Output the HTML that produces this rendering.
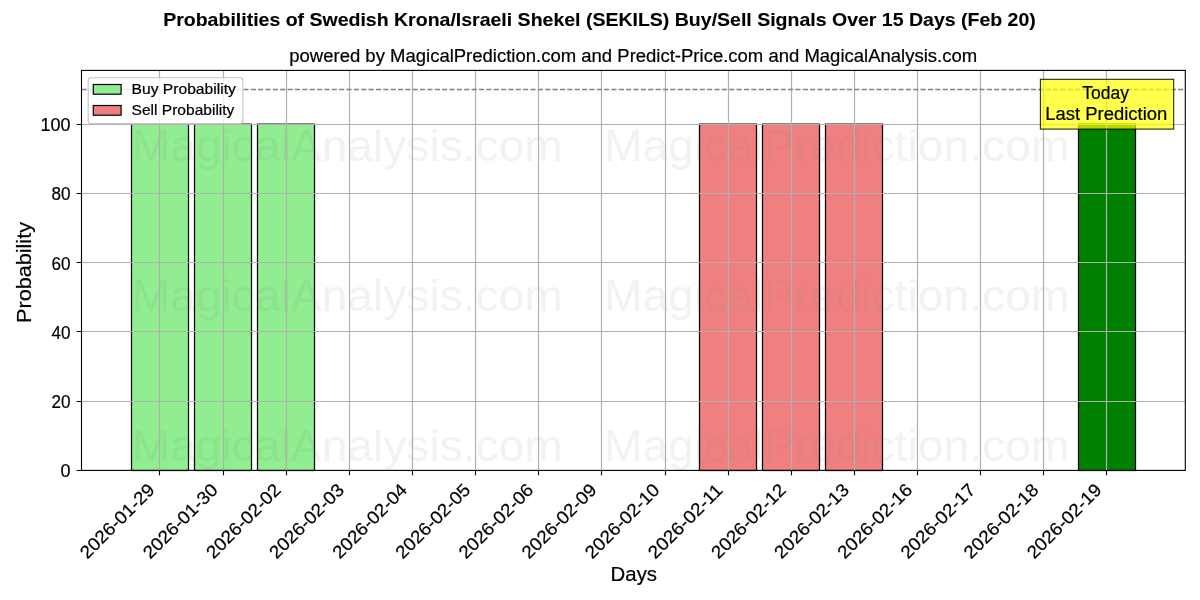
<!DOCTYPE html><html><head><meta charset="utf-8"><style>html,body{margin:0;padding:0;background:#fff;}svg{display:block;will-change:transform;}text{font-family:"Liberation Sans", sans-serif;stroke:#000;stroke-width:0.2px;}</style></head><body>
<svg width="1200" height="600" viewBox="0 0 1200 600">
<rect x="0" y="0" width="1200" height="600" fill="#fff"/>
<rect x="131.50" y="124.15" width="57.00" height="346.35" fill="#90ee90" stroke="#000" stroke-width="1.25"/>
<rect x="194.50" y="124.15" width="57.00" height="346.35" fill="#90ee90" stroke="#000" stroke-width="1.25"/>
<rect x="257.50" y="124.15" width="57.00" height="346.35" fill="#90ee90" stroke="#000" stroke-width="1.25"/>
<rect x="699.50" y="124.15" width="57.00" height="346.35" fill="#f08080" stroke="#000" stroke-width="1.25"/>
<rect x="762.50" y="124.15" width="57.00" height="346.35" fill="#f08080" stroke="#000" stroke-width="1.25"/>
<rect x="825.50" y="124.15" width="57.00" height="346.35" fill="#f08080" stroke="#000" stroke-width="1.25"/>
<rect x="1078.50" y="124.15" width="57.00" height="346.35" fill="#008000" stroke="#000" stroke-width="1.25"/>
<text x="131.8" y="161.3" font-size="43.6" fill="#808080" fill-opacity="0.1" style="stroke:none" textLength="431" lengthAdjust="spacingAndGlyphs">MagicalAnalysis.com</text>
<text x="603.9" y="161.3" font-size="43.6" fill="#808080" fill-opacity="0.1" style="stroke:none" textLength="465.7" lengthAdjust="spacingAndGlyphs">MagicalPrediction.com</text>
<text x="131.8" y="311.3" font-size="43.6" fill="#808080" fill-opacity="0.1" style="stroke:none" textLength="431" lengthAdjust="spacingAndGlyphs">MagicalAnalysis.com</text>
<text x="603.9" y="311.3" font-size="43.6" fill="#808080" fill-opacity="0.1" style="stroke:none" textLength="465.7" lengthAdjust="spacingAndGlyphs">MagicalPrediction.com</text>
<text x="131.8" y="461.3" font-size="43.6" fill="#808080" fill-opacity="0.1" style="stroke:none" textLength="431" lengthAdjust="spacingAndGlyphs">MagicalAnalysis.com</text>
<text x="603.9" y="461.3" font-size="43.6" fill="#808080" fill-opacity="0.1" style="stroke:none" textLength="465.7" lengthAdjust="spacingAndGlyphs">MagicalPrediction.com</text>
<path d="M159.50 70.4 V470.4 M223.50 70.4 V470.4 M286.50 70.4 V470.4 M349.50 70.4 V470.4 M412.50 70.4 V470.4 M475.50 70.4 V470.4 M538.50 70.4 V470.4 M601.50 70.4 V470.4 M665.50 70.4 V470.4 M728.50 70.4 V470.4 M791.50 70.4 V470.4 M854.50 70.4 V470.4 M917.50 70.4 V470.4 M980.50 70.4 V470.4 M1043.50 70.4 V470.4 M1106.50 70.4 V470.4" stroke="#b0b0b0" stroke-width="1.2" fill="none"/>
<path d="M81.5 470.50 H1185.3 M81.5 401.50 H1185.3 M81.5 331.50 H1185.3 M81.5 262.50 H1185.3 M81.5 193.50 H1185.3 M81.5 124.50 H1185.3" stroke="#b0b0b0" stroke-width="1.2" fill="none"/>
<path d="M81.5 89.52 H1185.3" stroke="#808080" stroke-width="1.39" stroke-dasharray="5.14 2.22" fill="none"/>
<rect x="1040.4" y="79.3" width="133.3" height="49.8" fill="#ffff00" fill-opacity="0.7" stroke="#000" stroke-opacity="0.85" stroke-width="1.1"/>
<text x="1105.6" y="98.7" font-size="17.5" text-anchor="middle">Today</text>
<text x="1106.3" y="119.6" font-size="17.5" text-anchor="middle" textLength="121.9" lengthAdjust="spacingAndGlyphs">Last Prediction</text>
<rect x="88.2" y="77.8" width="154.7" height="45.7" rx="2.8" fill="#fff" fill-opacity="0.8" stroke="#c4c4c4" stroke-width="1.1"/>
<rect x="93.3" y="84.5" width="27.8" height="9.7" fill="#90ee90" stroke="#000" stroke-width="1.2"/>
<rect x="93.3" y="105.5" width="27.8" height="9.7" fill="#f08080" stroke="#000" stroke-width="1.2"/>
<text x="131.6" y="94.1" font-size="13.9" textLength="104.2" lengthAdjust="spacingAndGlyphs">Buy Probability</text>
<text x="131.6" y="114.9" font-size="13.9" textLength="102.8" lengthAdjust="spacingAndGlyphs">Sell Probability</text>
<rect x="81.5" y="70.4" width="1103.80" height="400.00" fill="none" stroke="#000" stroke-width="1.1"/>
<path d="M159.50 470.4 v4.86 M223.50 470.4 v4.86 M286.50 470.4 v4.86 M349.50 470.4 v4.86 M412.50 470.4 v4.86 M475.50 470.4 v4.86 M538.50 470.4 v4.86 M601.50 470.4 v4.86 M665.50 470.4 v4.86 M728.50 470.4 v4.86 M791.50 470.4 v4.86 M854.50 470.4 v4.86 M917.50 470.4 v4.86 M980.50 470.4 v4.86 M1043.50 470.4 v4.86 M1106.50 470.4 v4.86 M81.5 470.50 h-4.86 M81.5 401.50 h-4.86 M81.5 331.50 h-4.86 M81.5 262.50 h-4.86 M81.5 193.50 h-4.86 M81.5 124.50 h-4.86" stroke="#000" stroke-width="1.1" fill="none"/>
<text x="70.5" y="477.40" font-size="18" text-anchor="end">0</text>
<text x="70.5" y="408.15" font-size="18" text-anchor="end" textLength="19" lengthAdjust="spacingAndGlyphs">20</text>
<text x="70.5" y="338.90" font-size="18" text-anchor="end" textLength="19" lengthAdjust="spacingAndGlyphs">40</text>
<text x="70.5" y="269.65" font-size="18" text-anchor="end" textLength="19" lengthAdjust="spacingAndGlyphs">60</text>
<text x="70.5" y="200.40" font-size="18" text-anchor="end" textLength="19" lengthAdjust="spacingAndGlyphs">80</text>
<text x="70.5" y="131.15" font-size="18" text-anchor="end" textLength="30" lengthAdjust="spacingAndGlyphs">100</text>
<text transform="translate(155.77,491.10) rotate(-45)" font-size="18" text-anchor="end" textLength="97" lengthAdjust="spacingAndGlyphs">2026-01-29</text>
<text transform="translate(218.90,491.10) rotate(-45)" font-size="18" text-anchor="end" textLength="97" lengthAdjust="spacingAndGlyphs">2026-01-30</text>
<text transform="translate(282.03,491.10) rotate(-45)" font-size="18" text-anchor="end" textLength="97" lengthAdjust="spacingAndGlyphs">2026-02-02</text>
<text transform="translate(345.16,491.10) rotate(-45)" font-size="18" text-anchor="end" textLength="97" lengthAdjust="spacingAndGlyphs">2026-02-03</text>
<text transform="translate(408.29,491.10) rotate(-45)" font-size="18" text-anchor="end" textLength="97" lengthAdjust="spacingAndGlyphs">2026-02-04</text>
<text transform="translate(471.42,491.10) rotate(-45)" font-size="18" text-anchor="end" textLength="97" lengthAdjust="spacingAndGlyphs">2026-02-05</text>
<text transform="translate(534.55,491.10) rotate(-45)" font-size="18" text-anchor="end" textLength="97" lengthAdjust="spacingAndGlyphs">2026-02-06</text>
<text transform="translate(597.68,491.10) rotate(-45)" font-size="18" text-anchor="end" textLength="97" lengthAdjust="spacingAndGlyphs">2026-02-09</text>
<text transform="translate(660.81,491.10) rotate(-45)" font-size="18" text-anchor="end" textLength="97" lengthAdjust="spacingAndGlyphs">2026-02-10</text>
<text transform="translate(723.94,491.10) rotate(-45)" font-size="18" text-anchor="end" textLength="97" lengthAdjust="spacingAndGlyphs">2026-02-11</text>
<text transform="translate(787.07,491.10) rotate(-45)" font-size="18" text-anchor="end" textLength="97" lengthAdjust="spacingAndGlyphs">2026-02-12</text>
<text transform="translate(850.20,491.10) rotate(-45)" font-size="18" text-anchor="end" textLength="97" lengthAdjust="spacingAndGlyphs">2026-02-13</text>
<text transform="translate(913.33,491.10) rotate(-45)" font-size="18" text-anchor="end" textLength="97" lengthAdjust="spacingAndGlyphs">2026-02-16</text>
<text transform="translate(976.46,491.10) rotate(-45)" font-size="18" text-anchor="end" textLength="97" lengthAdjust="spacingAndGlyphs">2026-02-17</text>
<text transform="translate(1039.59,491.10) rotate(-45)" font-size="18" text-anchor="end" textLength="97" lengthAdjust="spacingAndGlyphs">2026-02-18</text>
<text transform="translate(1102.72,491.10) rotate(-45)" font-size="18" text-anchor="end" textLength="97" lengthAdjust="spacingAndGlyphs">2026-02-19</text>
<text x="633.8" y="580.6" font-size="19.9" text-anchor="middle" textLength="46.5" lengthAdjust="spacingAndGlyphs">Days</text>
<text transform="translate(31,272.5) rotate(-90)" font-size="19.9" text-anchor="middle" textLength="101" lengthAdjust="spacingAndGlyphs">Probability</text>
<text x="599.5" y="25.6" font-size="17.8" font-weight="bold" style="stroke-width:0.1px" text-anchor="middle" textLength="872.6" lengthAdjust="spacingAndGlyphs">Probabilities of Swedish Krona/Israeli Shekel (SEKILS) Buy/Sell Signals Over 15 Days (Feb 20)</text>
<text x="633.2" y="61.5" font-size="17.5" text-anchor="middle" textLength="687.9" lengthAdjust="spacingAndGlyphs">powered by MagicalPrediction.com and Predict-Price.com and MagicalAnalysis.com</text>
</svg></body></html>
